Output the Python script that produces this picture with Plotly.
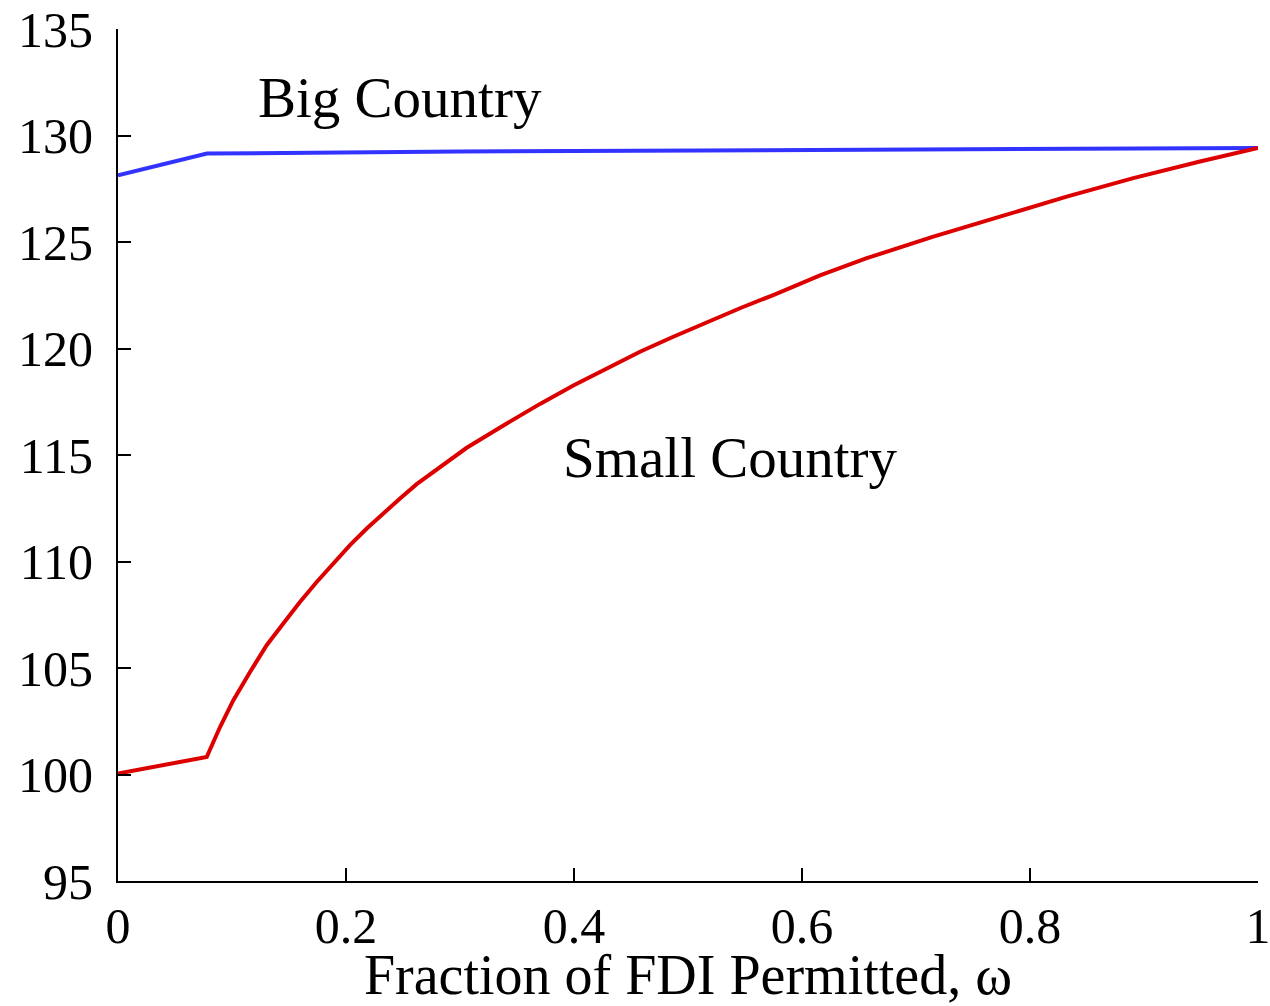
import plotly.graph_objects as go

# Welfare of each country against the fraction of FDI permitted (omega)
big_omega = [0.0, 0.078, 0.30, 0.60, 1.0]
big_welfare = [128.13, 129.15, 129.25, 129.33, 129.41]

small_omega = [0.0, 0.0778, 0.0895, 0.1011, 0.1158, 0.1304, 0.1450, 0.1596, 0.1743,
               0.1889, 0.2035, 0.2182, 0.2327, 0.2474, 0.2620, 0.2766, 0.2912,
               0.3059, 0.3410, 0.3702, 0.3994, 0.4287, 0.4579, 0.4871, 0.5164,
               0.5456, 0.5748, 0.6158, 0.6568, 0.7152, 0.7737, 0.8322, 0.8906,
               0.9491, 1.0]
small_welfare = [100.05, 100.82, 102.23, 103.48, 104.81, 106.07, 107.09, 108.10, 109.04,
                 109.91, 110.77, 111.55, 112.26, 112.96, 113.63, 114.21, 114.80,
                 115.34, 116.48, 117.40, 118.26, 119.07, 119.85, 120.55, 121.24,
                 121.89, 122.51, 123.43, 124.24, 125.25, 126.19, 127.13, 128.00,
                 128.78, 129.41]

x_ticks = [0, 0.2, 0.4, 0.6, 0.8, 1]
x_tick_text = ["0", "0.2", "0.4", "0.6", "0.8", "1"]
y_ticks = [95, 100, 105, 110, 115, 120, 125, 130, 135]

FONT = "Liberation Serif, Times New Roman, serif"

fig = go.Figure()
fig.add_trace(go.Scatter(x=big_omega, y=big_welfare, mode="lines",
                         line=dict(color="#3333ff", width=4), showlegend=False))
fig.add_trace(go.Scatter(x=small_omega, y=small_welfare, mode="lines",
                         line=dict(color="#dd0000", width=4), showlegend=False))

fig.add_annotation(x=0.247, y=131.8, text="Big Country", showarrow=False,
                   font=dict(family=FONT, size=57, color="black"))
fig.add_annotation(x=0.537, y=114.9, text="Small Country", showarrow=False,
                   font=dict(family=FONT, size=57, color="black"))

axis_common = dict(showline=True, linecolor="black", linewidth=2, mirror=False,
                   ticks="inside", ticklen=13, tickwidth=2, tickcolor="black",
                   showgrid=False, zeroline=False, automargin=False,
                   ticklabeloverflow="allow",
                   tickfont=dict(family=FONT, size=50, color="black"))

fig.update_xaxes(range=[0, 1], tickvals=x_ticks, ticktext=x_tick_text,
                 title=dict(text="Fraction of FDI Permitted, ω",
                            font=dict(family=FONT, size=56, color="black"), standoff=2),
                 ticklabelstandoff=0, **axis_common)
fig.update_yaxes(range=[95, 135], tickvals=y_ticks, ticklabelstandoff=13, **axis_common)

fig.update_layout(width=1270, height=1006, paper_bgcolor="white", plot_bgcolor="white",
                  margin=dict(l=118, r=12, t=29, b=125),
                  font=dict(family=FONT, color="black"))

fig.write_html("out.html")
